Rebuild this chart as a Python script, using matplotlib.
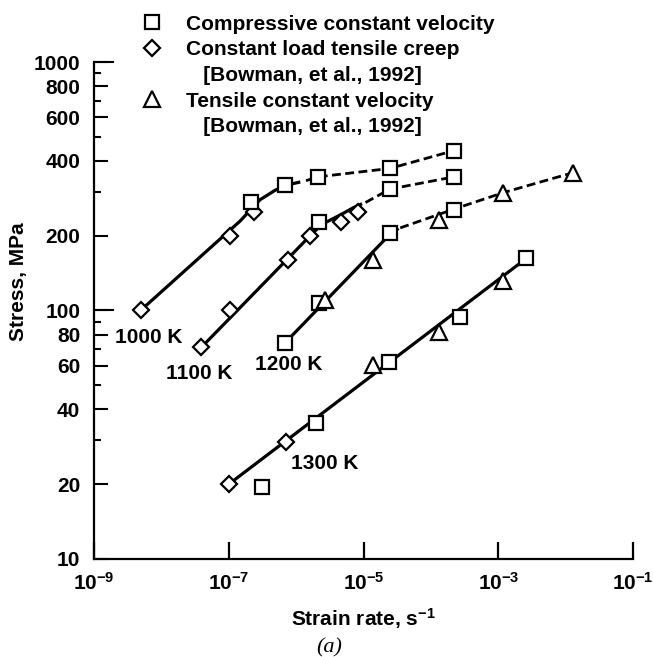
import matplotlib
matplotlib.use("Agg")
import matplotlib.pyplot as plt
from matplotlib.lines import Line2D

plt.rcParams['font.family'] = ['Liberation Sans', 'DejaVu Sans']
plt.rcParams['font.weight'] = 'bold'
plt.rcParams['mathtext.fontset'] = 'custom'
plt.rcParams['mathtext.rm'] = 'Liberation Sans'
plt.rcParams['mathtext.bf'] = 'Liberation Sans:bold'
plt.rcParams['mathtext.default'] = 'bf'

# compressive constant velocity (squares)
sq_rate = [2.1e-7, 6.8e-7, 2.1e-6, 2.46e-5, 2.2e-4,
           2.2e-6, 2.46e-5, 2.2e-4,
           6.8e-7, 2.2e-6, 2.46e-5, 2.2e-4,
           3.1e-7, 2.0e-6, 2.4e-5, 2.7e-4, 2.6e-3]
sq_stress = [274, 320, 345, 373, 440,
             228, 308, 345,
             74, 107, 205, 254,
             19.5, 35.2, 62, 94, 162]

# constant load tensile creep (diamonds)
dm_rate = [4.9e-9, 1.05e-7, 2.35e-7,
           3.9e-8, 1.05e-7, 7.6e-7, 1.6e-6, 4.7e-6, 8.4e-6,
           1.0e-7, 7.0e-7]
dm_stress = [100, 200, 248,
             71, 100, 160, 200, 228, 250,
             20, 29.6]

# tensile constant velocity (triangles)
tr_rate = [2.7e-6, 1.4e-5, 1.33e-4, 1.18e-3, 1.3e-2,
           1.38e-5, 1.33e-4, 1.18e-3]
tr_stress = [110, 160, 231, 298, 359,
             60.4, 82, 131]

# fitted curves (solid) and extrapolations (dashed)
fit_1000_rate = [4.9e-9, 1.47e-7, 2.9e-7, 4.9e-7, 8.1e-7, 1.15e-6]
fit_1000_stress = [100, 229, 279, 305, 322, 329]
ext_1000_rate = [1.4e-6, 2.1e-6, 2.46e-5, 2.2e-4]
ext_1000_stress = [333, 345, 373, 440]

fit_1100_rate = [3.9e-8, 1.6e-6, 2.4e-6, 3.5e-6, 5.0e-6, 7.0e-6, 9.5e-6]
fit_1100_stress = [71, 199.5, 222, 234, 246, 259, 269]
ext_1100_rate = [1.07e-5, 2.46e-5, 2.2e-4]
ext_1100_stress = [272, 308, 345]

fit_1200_rate = [6.8e-7, 2.35e-5, 3.3e-5]
fit_1200_stress = [74, 200, 214]
ext_1200_rate = [3.5e-5, 1.22e-4, 2.85e-4, 1.18e-3, 1.3e-2]
ext_1200_stress = [215, 242, 262, 298, 359]

fit_1300_rate = [1.0e-7, 2.6e-3]
fit_1300_stress = [20, 162]

temp_labels = ['1000 K', '1100 K', '1200 K', '1300 K']
temp_label_rate = [2.05e-9, 1.17e-8, 2.45e-7, 8.4e-7]
temp_label_stress = [78, 56, 60.4, 24.3]

x_ticks = [1e-9, 1e-7, 1e-5, 1e-3, 1e-1]
x_ticklabels = ['$10^{-9}$', '$10^{-7}$', '$10^{-5}$', '$10^{-3}$', '$10^{-1}$']
y_ticks = [10, 20, 40, 60, 80, 100, 200, 400, 600, 800, 1000]
y_minor = [30, 50, 70, 90, 300, 500, 700, 900]

fig = plt.figure(figsize=(6.53, 6.57), dpi=100)
ax = fig.add_axes([0.144, 0.1492, 0.8255, 0.7564])

solid = dict(color='black', lw=2.3, zorder=2, solid_capstyle='butt')
dashed = dict(color='black', lw=2.0, ls=(0, (3.2, 1.6)), zorder=2)
ax.plot(fit_1000_rate, fit_1000_stress, **solid)
ax.plot(ext_1000_rate, ext_1000_stress, **dashed)
ax.plot(fit_1100_rate, fit_1100_stress, **solid)
ax.plot(ext_1100_rate, ext_1100_stress, **dashed)
ax.plot(fit_1200_rate, fit_1200_stress, **solid)
ax.plot(ext_1200_rate, ext_1200_stress, **dashed)
ax.plot(fit_1300_rate, fit_1300_stress, **solid)

mk = dict(ls='none', mfc='white', mec='black', mew=1.6, zorder=3)
ax.plot(dm_rate, dm_stress, marker='D', ms=8.5, **mk)
ax.plot(sq_rate, sq_stress, marker='s', ms=10.5, **mk)
ax.plot(tr_rate, tr_stress, marker='^', ms=11, **mk)

for lab, xr, ys in zip(temp_labels, temp_label_rate, temp_label_stress):
    ax.text(xr, ys, lab, fontsize=15, ha='left', va='center')

ax.set_xscale('log')
ax.set_yscale('log')
ax.set_xlim(1e-9, 1e-1)
ax.set_ylim(10, 1000)

ax.set_xticks(x_ticks)
ax.set_xticklabels(x_ticklabels)
ax.xaxis.set_minor_locator(matplotlib.ticker.NullLocator())
ax.set_yticks(y_ticks)
ax.set_yticklabels([str(v) for v in y_ticks])
ax.set_yticks(y_minor, minor=True)
ax.yaxis.set_minor_formatter(matplotlib.ticker.NullFormatter())

for s in ['top', 'right']:
    ax.spines[s].set_visible(False)
for s in ['left', 'bottom']:
    ax.spines[s].set_linewidth(1.6)

ax.tick_params(axis='x', which='major', direction='in', length=12.5, width=1.6, pad=9, labelsize=15)
ax.tick_params(axis='y', which='major', direction='in', length=10, width=1.5, pad=10, labelsize=15)
ax.tick_params(axis='y', which='minor', direction='in', length=5, width=1.5)

# longer ticks at the decades
sec = ax.secondary_yaxis('left')
sec.set_yticks([100, 1000])
sec.set_yticklabels([])
sec.yaxis.set_minor_locator(matplotlib.ticker.NullLocator())
sec.tick_params(direction='in', length=14.5, width=1.5)
sec.spines['left'].set_visible(False)

fig.text(0.028, 0.572, 'Stress, MPa', rotation=90, ha='center', va='center', fontsize=15)
fig.text(0.557, 0.058, 'Strain rate, s$^{-1}$', ha='center', va='center', fontsize=15)
fig.text(0.504, 0.014, '(a)', ha='center', va='center', fontsize=16,
         family='Liberation Serif', style='italic', weight='normal')

handles = [
    Line2D([], [], ls='none', marker='s', ms=10.5, mfc='white', mec='black', mew=1.6),
    Line2D([], [], ls='none', marker='D', ms=8.5, mfc='white', mec='black', mew=1.6),
    Line2D([], [], ls='none'),
    Line2D([], [], ls='none', marker='^', ms=11, mfc='white', mec='black', mew=1.6),
    Line2D([], [], ls='none'),
]
labels = ['Compressive constant velocity',
          'Constant load tensile creep',
          '   [Bowman, et al., 1992]',
          'Tensile constant velocity',
          '   [Bowman, et al., 1992]']
fig.legend(handles, labels, loc='upper left', bbox_to_anchor=(0.2, 0.995),
           frameon=False, fontsize=15, handlelength=1.0, handletextpad=1.1,
           labelspacing=0.32, borderaxespad=0.15)

fig.savefig('out.png', dpi=100)
